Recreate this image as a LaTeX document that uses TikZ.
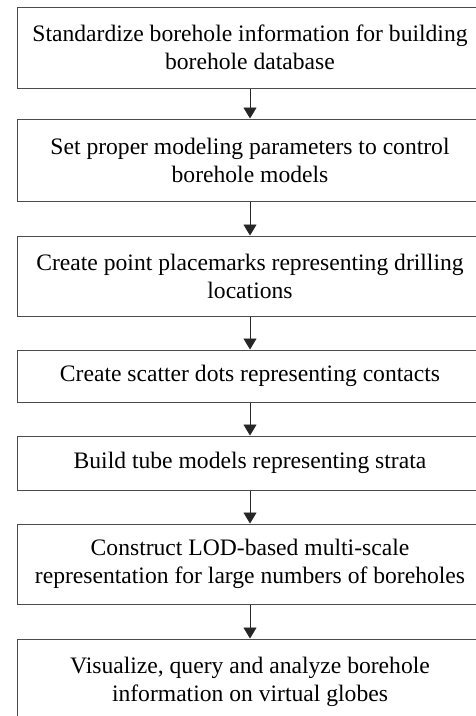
\documentclass[tikz,border=0pt]{standalone}
\usepackage{fontspec}
\setmainfont{Liberation Serif}
\usetikzlibrary{arrows.meta}
\begin{document}
\begin{tikzpicture}[x=1pt,y=1pt,
  stepbox/.style={draw=black!70, line width=1pt, rectangle, minimum width=466pt, inner sep=0pt, align=center, font=\fontsize{23.6}{28}\selectfont},
  flow/.style={draw=black!85, line width=0.9pt, -{Triangle[width=13pt,length=11pt]}}]
\useasboundingbox (0,0) rectangle (476,-716);
\begin{scope}
\clip (0,0) rectangle (476,-716);
\node[stepbox, minimum height=81pt] (b1) at (250,-47.5) {Standardize borehole information for building\\borehole database};
\node[stepbox, minimum height=82pt] (b2) at (250,-160) {Set proper modeling parameters to control\\borehole models};
\node[stepbox, minimum height=80pt] (b3) at (250,-276) {Create point placemarks representing drilling\\locations};
\node[stepbox, minimum height=52pt] (b4) at (250,-376) {Create scatter dots representing contacts};
\node[stepbox, minimum height=54pt] (b5) at (250,-463) {Build tube models representing strata};
\node[stepbox, minimum height=80pt] (b6) at (250,-564) {Construct LOD-based multi-scale\\representation for large numbers of boreholes};
\node[stepbox, minimum height=86pt] (b7) at (250,-682) {Visualize, query and analyze borehole\\information on virtual globes};
\draw[flow] (b1.south) -- (b2.north);
\draw[flow] (b2.south) -- (b3.north);
\draw[flow] (b3.south) -- (b4.north);
\draw[flow] (b4.south) -- (b5.north);
\draw[flow] (b5.south) -- (b6.north);
\draw[flow] (b6.south) -- (b7.north);
\end{scope}
\end{tikzpicture}
\end{document}
